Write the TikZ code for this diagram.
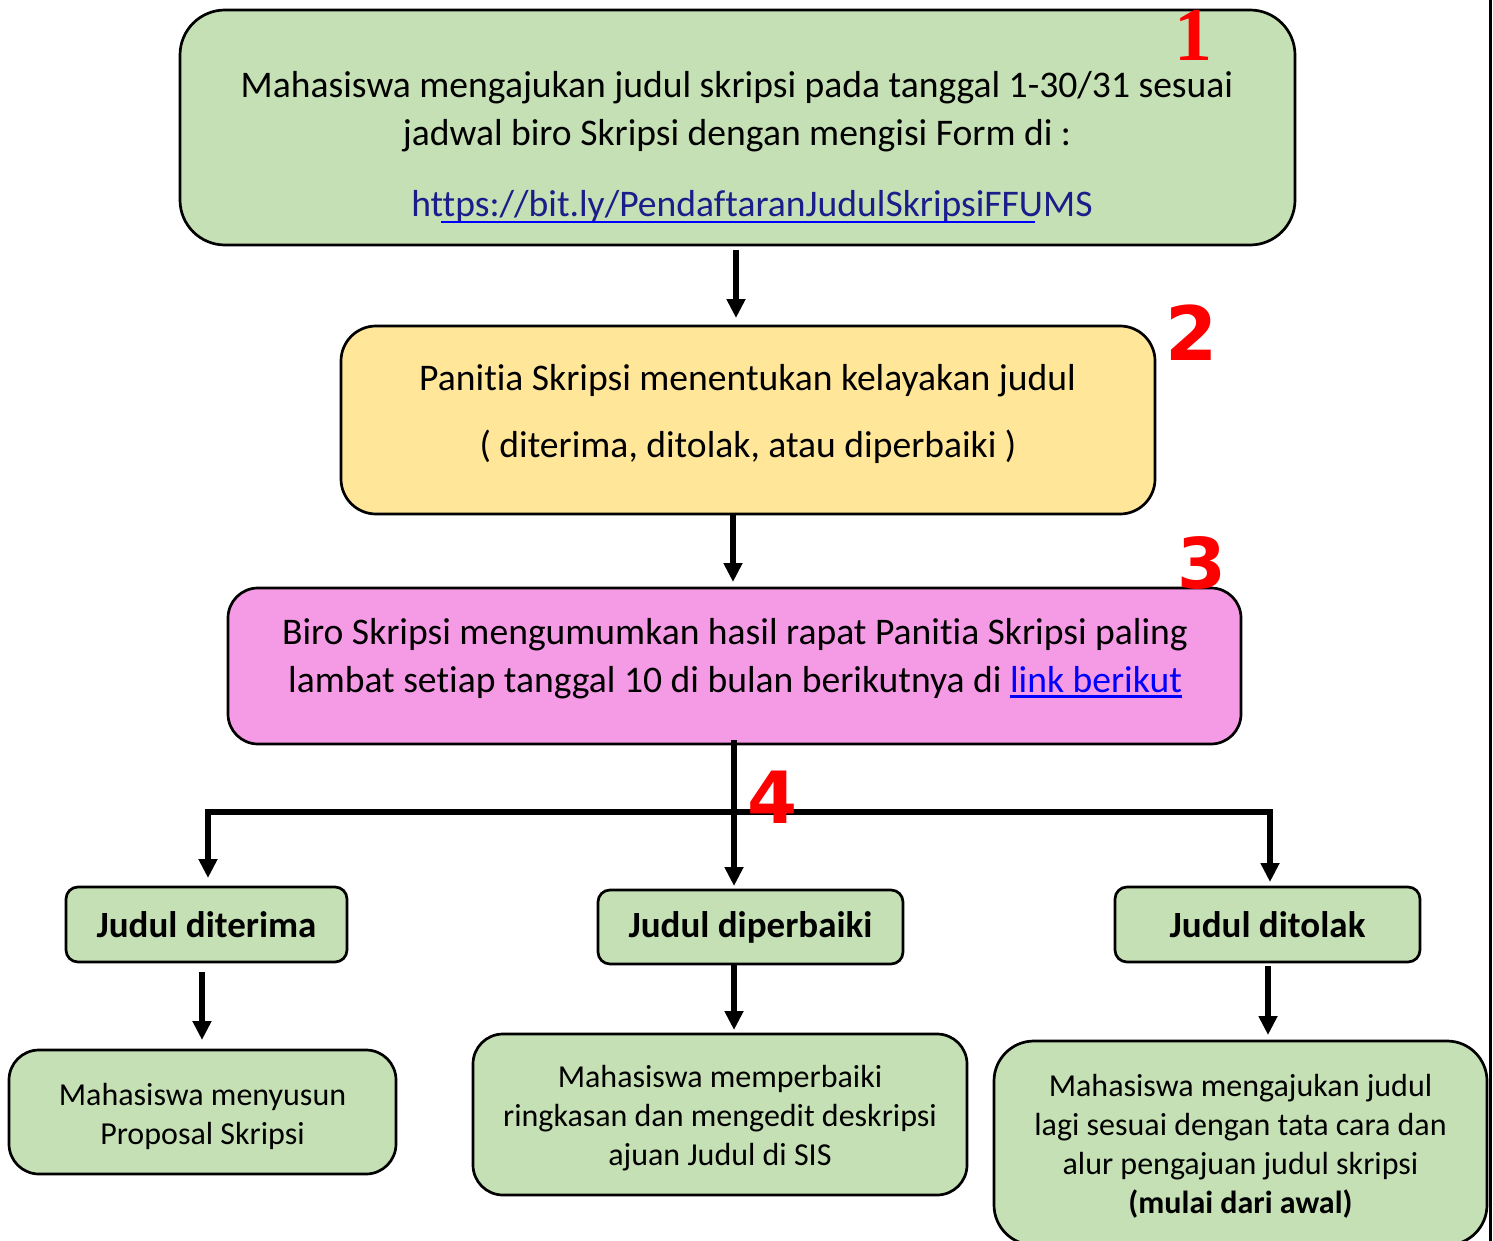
\documentclass[tikz,border=0pt]{standalone}
\usepackage{fontspec}
\setmainfont{Carlito}[Ligatures=NoCommon]
\newfontfamily\serifnum{Liberation Serif}
\newfontfamily\sansnum{DejaVu Sans}
\usetikzlibrary{arrows.meta}
\definecolor{gbox}{HTML}{C5E0B4}
\definecolor{ybox}{HTML}{FFE699}
\definecolor{pbox}{HTML}{F59BE6}
\definecolor{navy}{HTML}{1C1C8A}
\definecolor{lnkblue}{HTML}{0000FF}
\newcommand\ulink[1]{{\color{lnkblue}\setbox0=\hbox{#1}\rlap{\rule[-5pt]{\wd0}{2.5pt}}\box0}}
\tikzset{mytip/.tip={Triangle[length=19pt,width=18pt]}}
\begin{document}
\begin{tikzpicture}[x=1pt,y=-1pt,
  box/.style={draw=black,line width=2.7pt,rounded corners=#1,inner sep=0pt,outer sep=0pt},
  box/.default=30pt,
  big/.style={font=\fontsize{37.6}{48}\selectfont, align=center, inner sep=0pt},
  head/.style={font=\fontsize{37}{44}\selectfont\bfseries},
  small/.style={font=\fontsize{32}{39}\selectfont, align=center, inner sep=0pt},
  num/.style={text=red, inner sep=0pt},
  arr/.style={line width=5.5pt, -mytip},
  arr2/.style={line width=5.5pt, mytip-mytip, line join=miter},
]
\useasboundingbox (0,0) rectangle (1493,1241);
\fill[white] (0,0) rectangle (1493,1241);

% column coordinates
\coordinate (cA) at (736,0);
\coordinate (cB) at (733,0);
\coordinate (cC) at (734,0);
\coordinate (cL) at (208,812);
\coordinate (cR) at (1270,812);
\coordinate (cD) at (202,0);
\coordinate (cE) at (1268,0);

% box 1
\node[box=45pt, fill=gbox, minimum width=1115pt, minimum height=235pt] (b1) at (737.5,127.5) {};
\node[big] (t1) at (737,112) {Mahasiswa mengajukan judul skripsi pada tanggal 1-30/31 sesuai\\ jadwal biro Skripsi dengan mengisi Form di :};
\node[big, text=navy] (t1link) at (752,206) {https://bit.ly/PendaftaranJudulSkripsiFFUMS};
\draw[lnkblue, line width=2.5pt] (441,222) -- (1035,222);

% box 2
\node[box=35pt, fill=ybox, minimum width=814pt, minimum height=188pt] (b2) at (748,420) {};
\node[big] (t2a) at (747.5,381) {Panitia Skripsi menentukan kelayakan judul};
\node[big] (t2b) at (748,447) {( diterima, ditolak, atau diperbaiki )};

% box 3
\node[box=30pt, fill=pbox, minimum width=1013pt, minimum height=156pt] (b3) at (734.5,666) {};
\node[big] (t3) at (735,659) {Biro Skripsi mengumumkan hasil rapat Panitia Skripsi paling\\ lambat setiap tanggal 10 di bulan berikutnya di \ulink{link berikut}};

% headers
\node[box=12pt, fill=gbox, minimum width=281pt, minimum height=75pt, head] (h1) at (206.5,924.5) {Judul diterima};
\node[box=12pt, fill=gbox, minimum width=305pt, minimum height=74pt, head] (h2) at (750.5,927) {Judul diperbaiki};
\node[box=12pt, fill=gbox, minimum width=305pt, minimum height=75pt, head] (h3) at (1267.5,924.5) {Judul ditolak};

% bottom boxes
\node[box=30pt, fill=gbox, minimum width=387pt, minimum height=124pt] (d1) at (202.5,1112) {};
\node[small] (d1t) at (202.5,1116) {Mahasiswa menyusun\\Proposal Skripsi};
\node[box=30pt, fill=gbox, minimum width=494pt, minimum height=161pt] (d2) at (720,1114.5) {};
\node[small] (d2t) at (720,1118.5) {Mahasiswa memperbaiki\\ringkasan dan mengedit deskripsi\\ajuan Judul di SIS};
\node[box=40pt, fill=gbox, minimum width=493pt, minimum height=204pt] (d3) at (1240.5,1143) {};
\node[small] (d3t) at (1240.5,1146.5) {Mahasiswa mengajukan judul\\lagi sesuai dengan tata cara dan\\alur pengajuan judul skripsi\\\textbf{(mulai dari awal)}};

% connectors
\draw[arr] ([yshift=-5pt]b1.south -| cA) -- ([yshift=8pt]b2.north -| cA);
\draw[arr] (b2.south -| cB) -- ([yshift=6pt]b3.north -| cB);
\draw[arr] ([yshift=4pt]b3.south -| cC) -- ([yshift=4pt]h2.north -| cC);
\draw[arr2] ([yshift=9pt]h1.north -| cL) -- (cL) -- (cR) -- ([yshift=5pt]h3.north -| cR);
\draw[arr] ([yshift=-10pt]h1.south -| cD) -- ([yshift=10pt]d1.north -| cD);
\draw[arr] (h2.south -| cC) -- ([yshift=4pt]d2.north -| cC);
\draw[arr] ([yshift=-4pt]h3.south -| cE) -- ([yshift=6pt]d3.north -| cE);

% right edge line
\draw[line width=3pt] (1490.5,0) -- (1490.5,1241);

% step numbers
\node[num, font=\serifnum\bfseries\fontsize{76}{76}\selectfont] (n1) at (1193,35) {1};
\node[num, font=\sansnum\bfseries\fontsize{75}{75}\selectfont] (n2) at (1192,333) {2};
\node[num, font=\sansnum\bfseries\fontsize{70}{70}\selectfont] (n3) at (1202,563) {3};
\node[num, font=\sansnum\bfseries\fontsize{72}{72}\selectfont] (n4) at (773,797) {4};
\end{tikzpicture}
\end{document}
